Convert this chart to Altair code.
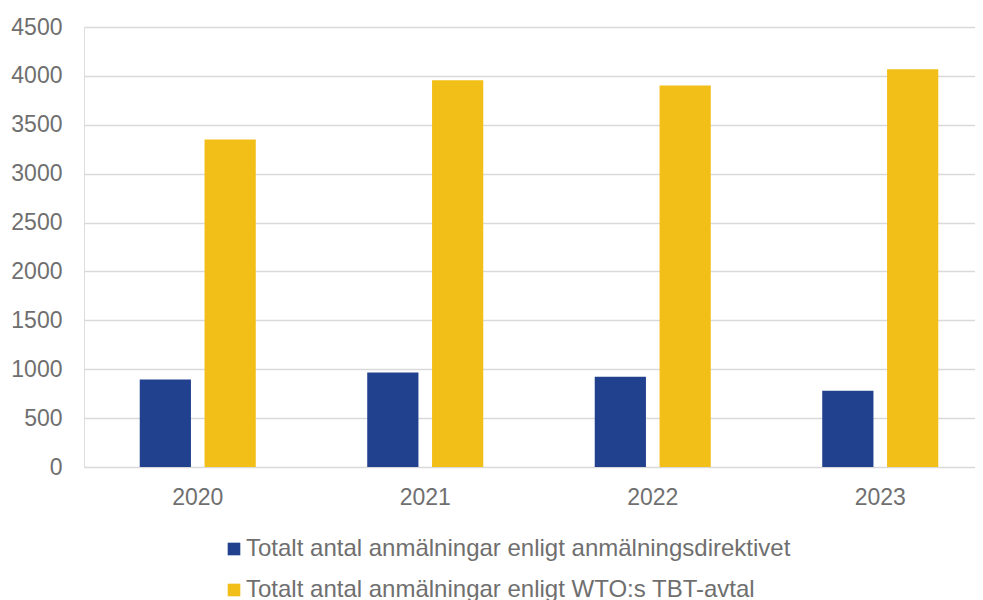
import altair as alt
import pandas as pd

years = ["2020", "2021", "2022", "2023"]
series = [
    "Totalt antal anmälningar enligt anmälningsdirektivet",
    "Totalt antal anmälningar enligt WTO:s TBT-avtal",
]
directive = [895, 966, 922, 779]
wto = [3349, 3955, 3901, 4068]
y_ticks = [0, 500, 1000, 1500, 2000, 2500, 3000, 3500, 4000, 4500]
colors = ["#21418F", "#F2BF18"]

rows = []
for i, yr in enumerate(years):
    rows.append({"year": yr, "series": series[0], "value": directive[i]})
    rows.append({"year": yr, "series": series[1], "value": wto[i]})
df = pd.DataFrame(rows)

TXT = "#6f6f6f"
FONT = "Liberation Sans"

chart = alt.Chart(df).mark_bar().encode(
    x=alt.X(
        "year:N",
        sort=years,
        scale=alt.Scale(paddingInner=0.49, paddingOuter=0.245, range=[0, 910]),
        axis=alt.Axis(title=None, labelAngle=0, ticks=False, domain=False,
                      labelFontSize=23, labelColor=TXT, labelFont=FONT,
                      labelPadding=19, grid=False),
    ),
    xOffset=alt.XOffset("series:N", sort=series,
                        scale=alt.Scale(paddingInner=0.21, paddingOuter=0)),
    y=alt.Y(
        "value:Q",
        scale=alt.Scale(domain=[0, 4500], nice=False),
        axis=alt.Axis(values=y_ticks, format="d", title=None, ticks=False, domain=False,
                      labelFontSize=23, labelColor=TXT, labelFont=FONT,
                      labelPadding=22, gridColor="#d9d9d9", gridWidth=1.5),
    ),
    color=alt.Color(
        "series:N",
        sort=series,
        scale=alt.Scale(domain=series, range=colors),
        legend=alt.Legend(title=None, orient="none", legendX=138, legendY=510,
                          direction="vertical", labelFontSize=24, labelColor=TXT,
                          labelFont=FONT, symbolType="square", symbolSize=160,
                          symbolStrokeWidth=0, rowPadding=17, labelOffset=0,
                          padding=0, labelLimit=0),
    ),
).properties(
    width=891,
    height=440,
    autosize=alt.AutoSizeParams(type="none"),
    padding={"left": 76, "top": 19, "right": 0, "bottom": 138},
).configure_view(stroke=None).configure(font=FONT)

chart.save("out.html", embed_options={"renderer": "svg", "actions": False})
